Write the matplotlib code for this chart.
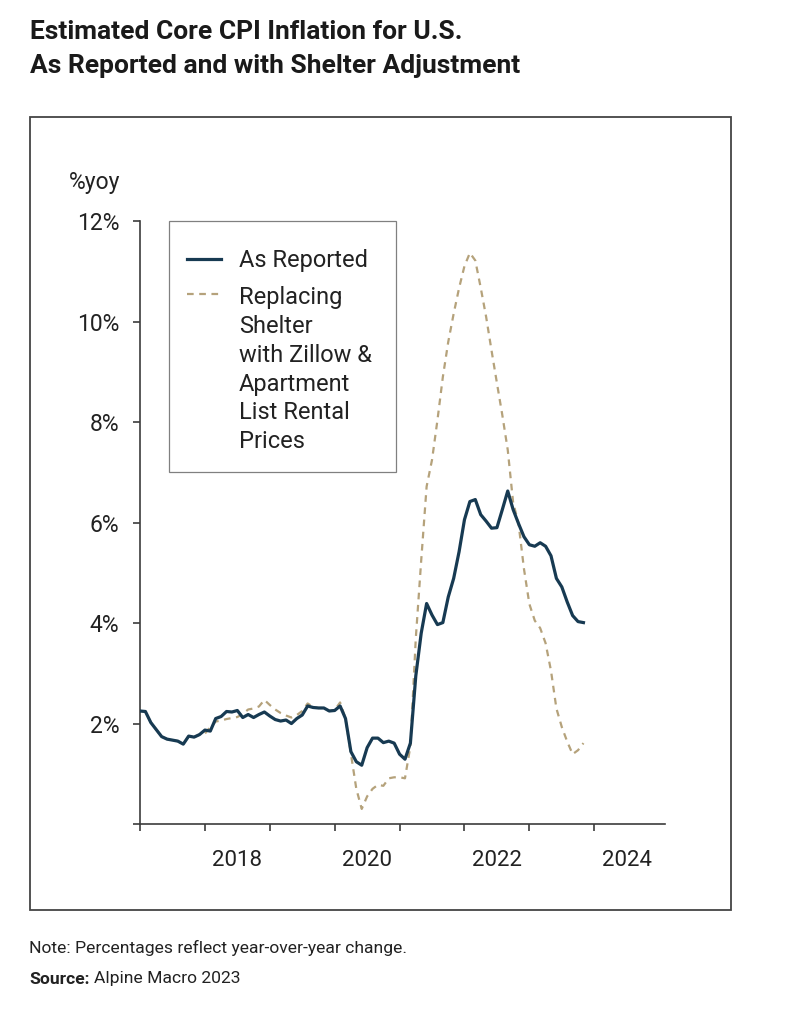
import matplotlib
matplotlib.use("Agg")
import matplotlib.pyplot as plt
from matplotlib.patches import Rectangle
from matplotlib.ticker import FixedLocator, NullFormatter
from matplotlib.legend_handler import HandlerLine2D
import pandas as pd

plt.rcParams['font.family'] = ['Roboto', 'DejaVu Sans']

# ---------------- data ----------------
months = pd.date_range("2017-01-01", periods=83, freq="MS")
x_years = [d.year + (d.month - 1) / 12 for d in months]

as_reported = [
    2.25, 2.24, 2.02, 1.88, 1.74, 1.69, 1.67, 1.65, 1.59, 1.75, 1.73, 1.78,
    1.87, 1.85, 2.10, 2.14, 2.24, 2.23, 2.26, 2.12, 2.18, 2.12, 2.18, 2.23,
    2.15, 2.08, 2.05, 2.07, 2.00, 2.10, 2.17, 2.35, 2.32, 2.31, 2.31, 2.25,
    2.26, 2.35, 2.10, 1.44, 1.24, 1.17, 1.52, 1.71, 1.71, 1.62, 1.65, 1.61,
    1.39, 1.29, 1.61, 2.95, 3.80, 4.39, 4.16, 3.97, 4.01, 4.52, 4.89, 5.42,
    6.06, 6.42, 6.46, 6.16, 6.03, 5.89, 5.90, 6.26, 6.63, 6.26, 5.98, 5.72,
    5.56, 5.53, 5.60, 5.53, 5.34, 4.89, 4.72, 4.42, 4.15, 4.03, 4.01,
]
shelter_adjusted = [
    2.25, 2.24, 2.02, 1.88, 1.74, 1.69, 1.67, 1.65, 1.59, 1.75, 1.73, 1.78,
    1.80, 1.93, 2.04, 2.06, 2.09, 2.11, 2.13, 2.19, 2.28, 2.30, 2.34, 2.47,
    2.37, 2.28, 2.21, 2.16, 2.12, 2.17, 2.25, 2.40, 2.33, 2.31, 2.31, 2.25,
    2.27, 2.42, 2.10, 1.40, 0.70, 0.30, 0.55, 0.70, 0.78, 0.76, 0.91, 0.93,
    0.93, 0.91, 1.55, 3.70, 5.25, 6.72, 7.25, 8.04, 8.90, 9.60, 10.16, 10.67,
    11.11, 11.37, 11.22, 10.68, 10.10, 9.43, 8.78, 8.14, 7.45, 6.40, 5.98, 5.08,
    4.38, 4.05, 3.90, 3.60, 3.05, 2.30, 1.93, 1.64, 1.39, 1.47, 1.61,
]
series_labels = ["As Reported",
                 "Replacing\nShelter\nwith Zillow &\nApartment\nList Rental\nPrices"]
year_ticks = list(range(2017, 2025))
year_labels = ["2018", "2020", "2022", "2024"]
y_ticks = [0, 2, 4, 6, 8, 10, 12]
y_labels = ["", "2%", "4%", "6%", "8%", "10%", "12%"]

# ---------------- figure ----------------
W, H = 791, 1024
fig = plt.figure(figsize=(W / 100, H / 100), dpi=100)
fig.patch.set_facecolor("white")

def fx(px):
    return px / W

def fy(py):
    return 1 - py / H

ax_left, ax_right, ax_top, ax_bottom = 140, 665, 221.3, 824
ax = fig.add_axes([fx(ax_left), fy(ax_bottom), fx(ax_right - ax_left), (ax_bottom - ax_top) / H])

navy = "#173a52"
tan = "#b5a27b"
spine_c = "#3c3c3c"
text_c = "#222222"

line_adj, = ax.plot(x_years, shelter_adjusted, color=tan, lw=1.6, dashes=(3.0, 2.5),
                    label=series_labels[1], zorder=2)
line_rep, = ax.plot(x_years, as_reported, color=navy, lw=2.3, label=series_labels[0],
                    zorder=3, solid_joinstyle="round")

ax.set_xlim(2017.0, 2025.09)
ax.set_ylim(0, 12)

for s in ["top", "right"]:
    ax.spines[s].set_visible(False)
for s in ["left", "bottom"]:
    ax.spines[s].set_color(spine_c)
    ax.spines[s].set_linewidth(1.2)

ax.xaxis.set_major_locator(FixedLocator(year_ticks))
ax.xaxis.set_major_formatter(NullFormatter())
ax.xaxis.set_minor_locator(FixedLocator([int(y) + 0.5 for y in year_labels]))
ax.set_xticklabels(year_labels, minor=True)
ax.tick_params(axis="x", which="major", length=5, width=1.2, color=spine_c, direction="out")
ax.tick_params(axis="x", which="minor", length=0, pad=19, labelsize=16, labelcolor=text_c)

ax.set_yticks(y_ticks)
ax.set_yticklabels(y_labels)
ax.tick_params(axis="y", length=5, width=1.2, color=spine_c, pad=10, labelsize=16.5,
               labelcolor=text_c)

fig.text(fx(120), fy(183), "%yoy", ha="right", va="center", fontsize=16.5, color=text_c)


class ShiftedLineHandler(HandlerLine2D):
    def __init__(self, shift=0.0, **kw):
        super().__init__(**kw)
        self.shift = shift

    def create_artists(self, legend, orig_handle, xdescent, ydescent, width, height,
                       fontsize, trans):
        artists = super().create_artists(legend, orig_handle, xdescent, ydescent, width,
                                         height, fontsize, trans)
        for a in artists:
            yd = a.get_ydata()
            a.set_ydata([v + self.shift for v in yd])
        return artists


leg = ax.legend([line_rep, line_adj], [series_labels[0], series_labels[1]],
                loc="upper left",
                bbox_to_anchor=(fx(186.7), fy(249)), bbox_transform=fig.transFigure,
                borderaxespad=0, fontsize=17, frameon=False,
                handlelength=1.44, handletextpad=0.78, borderpad=0, labelspacing=0.61,
                handler_map={line_adj: ShiftedLineHandler(shift=55.0)})
for t in leg.get_texts():
    t.set_color(text_c)
    t.set_linespacing(1.32)

# legend box
fig.patches.append(Rectangle((fx(168.7), fy(471.7)), fx(395.7 - 168.7), (471.7 - 221.3) / H,
                             transform=fig.transFigure, fill=False,
                             edgecolor="#808080", lw=0.9, zorder=1))

# outer frame
fig.patches.append(Rectangle((fx(30), fy(910)), fx(731 - 30), (910 - 117) / H,
                             transform=fig.transFigure, fill=False,
                             edgecolor="#444444", lw=1.3, zorder=0))

# titles
fig.text(fx(30), fy(39), "Estimated Core CPI Inflation for U.S.", ha="left", va="baseline",
         fontsize=19, fontweight="bold", color="#1a1a1a")
fig.text(fx(30), fy(73), "As Reported and with Shelter Adjustment", ha="left", va="baseline",
         fontsize=19, fontweight="bold", color="#1a1a1a")

fig.text(fx(29), fy(948), "Note: Percentages reflect year-over-year change.", ha="left",
         va="center", fontsize=12.6, color="#222222")
src = fig.text(fx(29), fy(979), "Source:", ha="left", va="center", fontsize=12.6,
               fontweight="bold", color="#222222")
fig.canvas.draw()
bb = src.get_window_extent()
fig.text((bb.x1 + 4) / W, fy(979), "Alpine Macro 2023", ha="left", va="center",
         fontsize=12.6, color="#222222")

fig.savefig("out.png", dpi=100, facecolor="white")
